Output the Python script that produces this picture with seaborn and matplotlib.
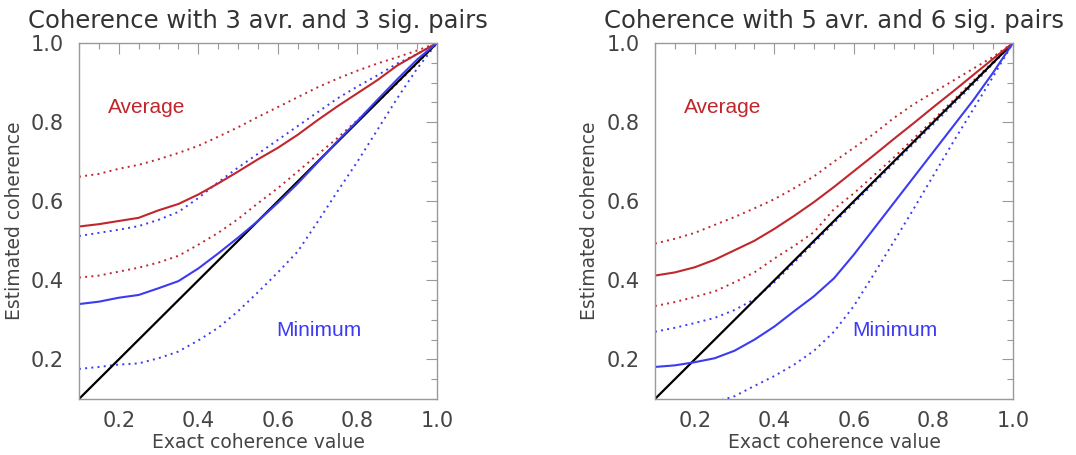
import numpy as np
import pandas as pd
import matplotlib
matplotlib.use("Agg")
import matplotlib.pyplot as plt
import seaborn as sns
from matplotlib.ticker import MultipleLocator

# exact coherence grid
x = [0.10, 0.15, 0.20, 0.25, 0.30, 0.35, 0.40, 0.45, 0.50, 0.55,
     0.60, 0.65, 0.70, 0.75, 0.80, 0.85, 0.90, 0.95, 1.00]

# left panel: 3 avr., 3 sig. pairs
l_avg = [0.536, 0.542, 0.550, 0.558, 0.577, 0.593, 0.617, 0.645, 0.675, 0.706,
         0.735, 0.768, 0.805, 0.840, 0.873, 0.906, 0.943, 0.972, 1.0]
l_avg_hi = [0.662, 0.669, 0.682, 0.692, 0.706, 0.722, 0.740, 0.763, 0.787, 0.813,
            0.838, 0.863, 0.888, 0.910, 0.930, 0.948, 0.964, 0.981, 1.0]
l_avg_lo = [0.407, 0.412, 0.422, 0.432, 0.445, 0.462, 0.490, 0.520, 0.555, 0.595,
            0.633, 0.675, 0.718, 0.760, 0.805, 0.850, 0.898, 0.948, 1.0]
l_min = [0.340, 0.346, 0.356, 0.363, 0.380, 0.398, 0.430, 0.468, 0.508, 0.550,
         0.596, 0.645, 0.698, 0.752, 0.803, 0.856, 0.908, 0.958, 1.0]
l_min_hi = [0.512, 0.520, 0.528, 0.537, 0.553, 0.573, 0.608, 0.648, 0.685, 0.720,
            0.755, 0.790, 0.825, 0.860, 0.890, 0.918, 0.948, 0.972, 1.0]
l_min_lo = [0.176, 0.181, 0.187, 0.190, 0.203, 0.220, 0.248, 0.280, 0.322, 0.370,
            0.420, 0.473, 0.548, 0.625, 0.700, 0.780, 0.860, 0.935, 1.0]

# right panel: 5 avr., 6 sig. pairs
r_avg = [0.412, 0.420, 0.433, 0.452, 0.476, 0.500, 0.530, 0.563, 0.598, 0.636,
         0.676, 0.716, 0.757, 0.797, 0.838, 0.878, 0.919, 0.960, 1.0]
r_avg_hi = [0.493, 0.505, 0.520, 0.540, 0.560, 0.582, 0.605, 0.633, 0.663, 0.700,
            0.735, 0.770, 0.810, 0.845, 0.875, 0.905, 0.935, 0.965, 1.0]
r_avg_lo = [0.335, 0.345, 0.358, 0.372, 0.395, 0.420, 0.455, 0.487, 0.522, 0.580,
            0.620, 0.665, 0.710, 0.758, 0.806, 0.855, 0.904, 0.952, 1.0]
r_min = [0.181, 0.185, 0.193, 0.203, 0.222, 0.250, 0.283, 0.322, 0.360, 0.405,
         0.465, 0.530, 0.595, 0.660, 0.725, 0.790, 0.855, 0.925, 1.0]
r_min_hi = [0.270, 0.280, 0.292, 0.305, 0.325, 0.352, 0.395, 0.445, 0.495, 0.545,
            0.595, 0.645, 0.695, 0.745, 0.795, 0.845, 0.895, 0.948, 1.0]
r_min_lo = [0.060, 0.068, 0.075, 0.092, 0.107, 0.133, 0.158, 0.187, 0.222, 0.270,
            0.335, 0.415, 0.497, 0.580, 0.665, 0.750, 0.832, 0.915, 1.0]

titles = ["Coherence with 3 avr. and 3 sig. pairs",
          "Coherence with 5 avr. and 6 sig. pairs"]
tick_vals = [0.2, 0.4, 0.6, 0.8, 1.0]
tick_labels = ["0.2", "0.4", "0.6", "0.8", "1.0"]

RED = "#c0272d"
BLUE = "#3b3bf2"
GRAY = "#444444"

sns.set_style("white")
plt.rcParams["font.family"] = ["DejaVu Sans"]

fig = plt.figure(figsize=(10.76, 4.55), dpi=100)
axes = [fig.add_axes([0.0734, 0.1231, 0.3327, 0.7824]),
        fig.add_axes([0.6087, 0.1231, 0.3327, 0.7824])]

panels = [(l_avg, l_avg_hi, l_avg_lo, l_min, l_min_hi, l_min_lo),
          (r_avg, r_avg_hi, r_avg_lo, r_min, r_min_hi, r_min_lo)]

for ax, title, (avg, avg_hi, avg_lo, mn, mn_hi, mn_lo) in zip(axes, titles, panels):
    df = pd.DataFrame({"x": x, "avg": avg, "avg_hi": avg_hi, "avg_lo": avg_lo,
                       "mn": mn, "mn_hi": mn_hi, "mn_lo": mn_lo, "diag": x})
    # spread of the estimates (dotted)
    for col, color in [("avg_hi", RED), ("avg_lo", RED), ("mn_hi", BLUE), ("mn_lo", BLUE)]:
        sns.lineplot(data=df, x="x", y=col, ax=ax, color=color, lw=1.4,
                     linestyle=(0, (1, 2.2)))
    sns.lineplot(data=df, x="x", y="diag", ax=ax, color="black", lw=1.6)
    sns.lineplot(data=df, x="x", y="avg", ax=ax, color=RED, lw=1.5)
    sns.lineplot(data=df, x="x", y="mn", ax=ax, color=BLUE, lw=1.5)

    ax.set_xlim(0.1, 1.0)
    ax.set_ylim(0.1, 1.0)
    ax.xaxis.set_minor_locator(MultipleLocator(0.05))
    ax.yaxis.set_minor_locator(MultipleLocator(0.05))
    ax.set_xticks(tick_vals)
    ax.set_yticks(tick_vals)
    ax.set_xticklabels(tick_labels)
    ax.set_yticklabels(tick_labels)
    ax.tick_params(which="both", direction="in", top=True, right=True,
                   colors="#999999", labelcolor=GRAY, labelsize=15, width=0.8)
    ax.tick_params(which="major", length=8)
    ax.tick_params(axis="x", which="major", pad=9)
    ax.tick_params(axis="y", which="major", pad=11)
    ax.tick_params(which="minor", length=4)
    for s in ax.spines.values():
        s.set_color("#999999")
        s.set_linewidth(1.0)

    ax.set_xlabel("Exact coherence value", fontsize=13.5, color=GRAY, labelpad=1)
    ax.set_ylabel("Estimated coherence", fontsize=13.5, color=GRAY, labelpad=5)
    ax.set_title(title, fontsize=17.5, color="#333333", pad=11)

    ax.text(0.271, 0.838, "Average", color=RED, fontsize=15, ha="center", va="center",
            family=["Liberation Sans"])
    ax.text(0.702, 0.274, "Minimum", color=BLUE, fontsize=15, ha="center", va="center",
            family=["Liberation Sans"])

fig.savefig("out.png", dpi=100)
